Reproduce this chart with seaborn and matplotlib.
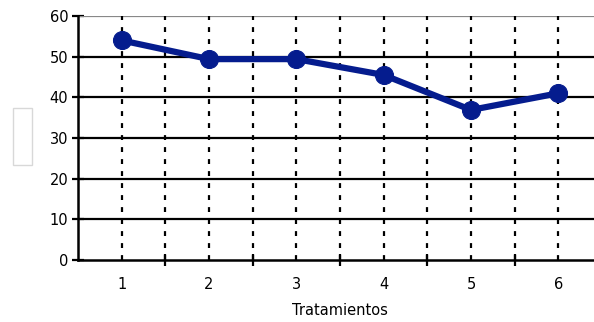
import matplotlib
matplotlib.use("Agg")
import matplotlib.pyplot as plt
from matplotlib.patches import Rectangle
import seaborn as sns
import pandas as pd

tratamientos = [1, 2, 3, 4, 5, 6]
valores = [54, 49.4, 49.4, 45.5, 36.9, 41]
y_ticks = [0, 10, 20, 30, 40, 50, 60]

sns.set_theme(style="white")
plt.rcParams["font.family"] = ["DejaVu Sans"]

df = pd.DataFrame({"Tratamientos": tratamientos, "valor": valores})

W, H = 594, 322
fig = plt.figure(figsize=(W / 100, H / 100), dpi=100)
# the plotting area runs slightly past the right edge of the canvas
left, right, top, bottom = 78, 602, 16, 260
ax = fig.add_axes([left / W, 1 - bottom / H, (right - left) / W, (bottom - top) / H])

ax.set_xlim(0.5, 6.5)
ax.set_ylim(0, 60)

# horizontal gridlines
for v in y_ticks[1:]:
    ax.axhline(v, color="#888888" if v == 60 else "black", lw=1.6, zorder=1)
# dotted vertical lines at category centres and boundaries
for x in [i * 0.5 + 0.5 for i in range(1, 13)]:
    ax.axvline(x, color="black", lw=1.6, ls=(0, (2.2, 3.2)), zorder=1)

sns.lineplot(data=df, x="Tratamientos", y="valor", ax=ax, color="#051C8E",
             lw=4.5, marker="o", markersize=13, markeredgecolor="#051C8E",
             zorder=3)

for s in ["top", "right"]:
    ax.spines[s].set_visible(False)
ax.spines["left"].set_color("black")
ax.spines["left"].set_linewidth(1.8)
ax.spines["bottom"].set_color("black")
ax.spines["bottom"].set_linewidth(1.8)

ax.set_yticks(y_ticks)
ax.set_yticklabels([str(v) for v in y_ticks], fontsize=10.5)
ax.set_xticks(tratamientos)
ax.set_xticklabels([str(v) for v in tratamientos], fontsize=10.5)
ax.set_xticks([1.5, 2.5, 3.5, 4.5, 5.5], minor=True)
ax.tick_params(axis="y", which="major", direction="inout", length=8, width=1.6,
               color="black", pad=3, labelcolor="black", left=True)
ax.tick_params(axis="x", which="major", length=0, pad=12, labelcolor="black")
ax.tick_params(axis="x", which="minor", direction="inout", length=9, width=1.6,
               color="black", bottom=True)
ax.set_xlabel("Tratamientos", fontsize=10.5, labelpad=8, color="black")
ax.set_ylabel("")

fig.patches.append(Rectangle((13 / W, 1 - 165 / H), 19 / W, 57 / H,
                             transform=fig.transFigure, fill=False,
                             edgecolor="#d8d8d8", lw=1))

fig.savefig("out.png", dpi=100)
